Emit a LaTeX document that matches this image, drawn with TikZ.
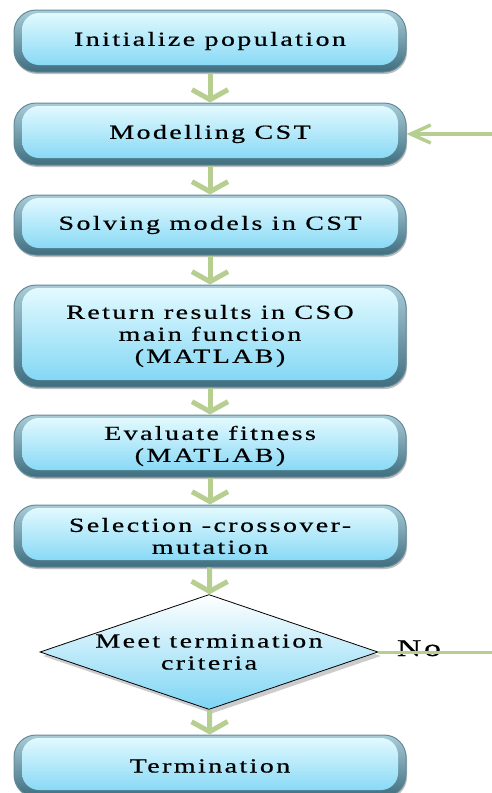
\documentclass[tikz,border=0pt]{standalone}
\usepackage{fontspec}
\setmainfont{Liberation Serif}
\newfontfamily\flowfont[FakeStretch=1.4,LetterSpace=12,FakeBold=0.6]{Liberation Serif}
\usetikzlibrary{shapes.geometric,shadows,arrows.meta}
\definecolor{boxtop}{HTML}{E6FBFF}
\definecolor{boxbottom}{HTML}{7DD5F4}
\definecolor{boxedge}{HTML}{3F6E80}
\definecolor{beveltop}{HTML}{A9CCD8}
\definecolor{arrowgreen}{HTML}{B7CE91}

\begin{document}
\begin{tikzpicture}
[x=1pt,y=-1pt,
  boxdecorate/.style={shape=rectangle,rounded corners=22pt,draw=boxedge!80,line width=1pt,
    top color=beveltop,bottom color=boxedge,minimum width=392pt,inner sep=0pt,
    align=center,font=\flowfont\fontsize{20}{22}\selectfont,
    path picture={\shade[top color=boxtop,bottom color=boxbottom,rounded corners=17pt]
      ([xshift=8pt,yshift=-3pt]path picture bounding box.north west) rectangle
      ([xshift=-8pt,yshift=7pt]path picture bounding box.south east);},
    drop shadow={shadow xshift=1pt,shadow yshift=-2pt,fill=gray,opacity=0.5}},
  decisiondecorate/.style={shape=diamond,aspect=2.94,draw=black,line width=0.8pt,
    top color=white,bottom color=boxbottom,
    minimum width=338pt,minimum height=115pt,inner sep=0pt,align=center,
    font=\flowfont\fontsize{20}{22}\selectfont,
    drop shadow={shadow xshift=3pt,shadow yshift=-4pt,fill=gray,opacity=0.4}},
  arrowdecorate/.style={-{Straight Barb[length=10pt,width=36pt]},line width=5pt,draw=arrowgreen},
  sidearrowdecorate/.style={-{Straight Barb[length=20pt,width=18pt]},line width=3.5pt,draw=arrowgreen}]
\clip (0,0) rectangle (492,793);
\useasboundingbox (0,0) rectangle (492,793);
%% process boxes
\foreach \nodename/\y/\h/\txt in {
  init/41/62/{Initialize population}, model/134/62/{Modelling CST},
  solve/225/60/{Solving models in CST},
  matlab/336/102/{Return results in CSO\\main function\\(MATLAB)},
  fitness/446/62/{Evaluate fitness\\(MATLAB)},
  select/536/62/{Selection -crossover-\\mutation},
  stop/766/62/{Termination}} {
  \node (\nodename) at (210,\y) [boxdecorate,minimum height=\h pt] {\txt};
}
%% decision
\node (meet) at (209,652) [decisiondecorate] {Meet termination\\criteria};
\node (no) at (419,656) [anchor=base,font=\flowfont\fontsize{24}{26}\selectfont] {No};
\coordinate (loopout) at (492,652);
\coordinate (loopin) at (492,134);
%% edges or lines
\path
\foreach \startnode/\endnode in {init/model, model/solve, solve/matlab,
  matlab/fitness, fitness/select, select/meet, meet/stop} {
  (\startnode) edge[arrowdecorate] (\endnode)
};
\draw[line width=3pt,arrowgreen] (meet.east) -- (loopout);
\draw[sidearrowdecorate] (loopin) -- (model.east);
\end{tikzpicture}
\end{document}
